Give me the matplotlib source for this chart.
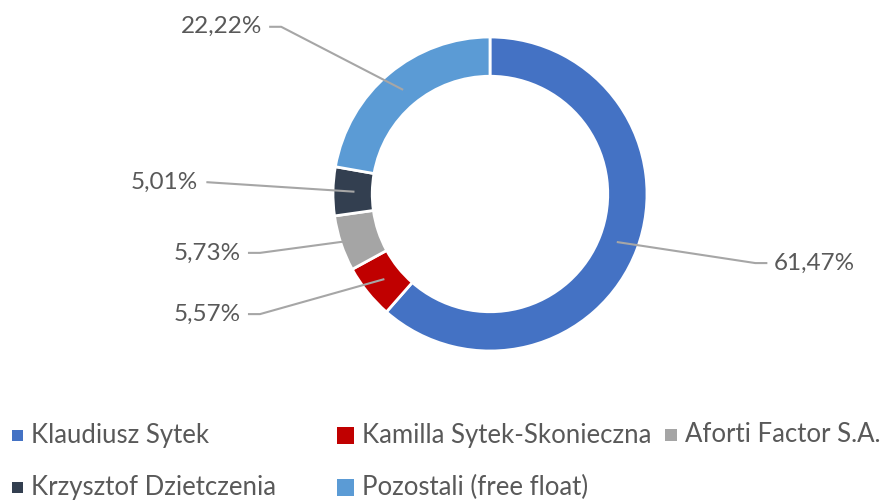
import numpy as np
import matplotlib
matplotlib.use("Agg")
import matplotlib.pyplot as plt
from matplotlib.patches import Rectangle

# Shareholder structure (percent of shares)
names = ["Klaudiusz Sytek", "Kamilla Sytek-Skonieczna", "Aforti Factor S.A.",
         "Krzysztof Dzietczenia", "Pozostali (free float)"]
shares = [61.47, 5.57, 5.73, 5.01, 22.22]
labels = ["61,47%", "5,57%", "5,73%", "5,01%", "22,22%"]
colors = ["#4472C4", "#C00000", "#A5A5A5", "#333F50", "#5B9BD5"]

plt.rcParams["font.family"] = ["Lato", "DejaVu Sans"]
text_col = "#595959"
line_col = "#A6A6A6"

W, H = 887, 500
fig = plt.figure(figsize=(W / 100, H / 100), dpi=100)

# donut: centre (490, 194) px, radius 157 px
cx, cy, r = 490, 194, 157
ax = fig.add_axes([(cx - r) / W, (H - cy - r) / H, 2 * r / W, 2 * r / H])
wedges, _ = ax.pie(shares, colors=colors, startangle=90, counterclock=False,
                   radius=1.0, wedgeprops=dict(width=0.25, edgecolor="white", linewidth=2))
ax.set_xlim(-1, 1)
ax.set_ylim(-1, 1)
ax.set_aspect("equal")
ax.axis("off")

# leader line elbows (data units), text side
elbows = [(1.69, -0.44, "left"), (-1.465, -0.765, "right"), (-1.465, -0.375, "right"),
          (-1.80, 0.075, "right"), (-1.33, 1.065, "right")]
anchor_r = [0.87, 0.87, 0.95, 0.87, 0.87]

for w, lab, (ex, ey, side), ar in zip(wedges, labels, elbows, anchor_r):
    mid = np.deg2rad((w.theta1 + w.theta2) / 2)
    px, py = ar * np.cos(mid), ar * np.sin(mid)
    if side == "left":
        xs = [px, ex, ex + 0.07]
        tx = ex + 0.12
    else:
        xs = [px, ex, ex - 0.07]
        tx = ex - 0.12
    ys = [py, ey, ey]
    if abs(ey - 0.075) < 1e-6:
        xs, ys = [px, ex], [py, ey]
        tx = ex - 0.06
    ax.plot(xs, ys, color=line_col, lw=1.5, clip_on=False, zorder=3)
    ax.text(tx, ey, lab, ha=side, va="center", fontsize=17.5, color=text_col,
            clip_on=False)

# legend, laid out like the original (two rows)
leg_pos = [(12, 435, 11), (337, 435, 17), (665, 435, 12), (12, 487, 11), (337, 487, 17)]
for name, col, (lx, ly, s) in zip(names, colors, leg_pos):
    fig.patches.append(Rectangle((lx / W, (H - ly - s / 2) / H), s / W, s / H,
                                 transform=fig.transFigure, facecolor=col,
                                 edgecolor="none"))
    fig.text((lx + s + 8) / W, (H - ly) / H, name, ha="left", va="center",
             fontsize=18.5, color=text_col)

fig.savefig("out.png", dpi=100)
